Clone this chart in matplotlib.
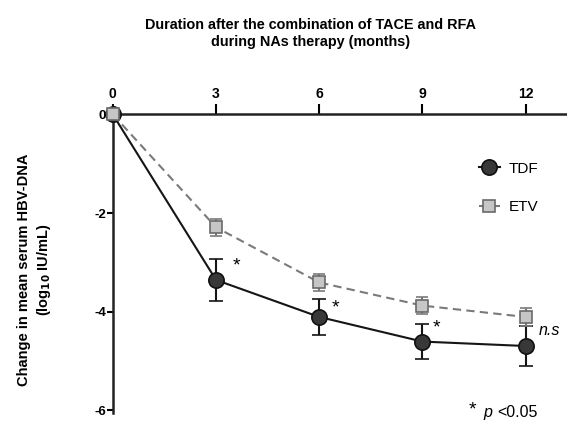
import matplotlib
matplotlib.use("Agg")
import matplotlib.pyplot as plt
from matplotlib.lines import Line2D
import numpy as np

plt.rcParams['font.family'] = ['Liberation Sans', 'DejaVu Sans']

months = [0, 3, 6, 9, 12]
tdf_mean = [0, -3.36, -4.11, -4.61, -4.70]
tdf_err = [0, 0.42, 0.37, 0.35, 0.41]
etv_mean = [0, -2.29, -3.41, -3.88, -4.11]
etv_err = [0, 0.17, 0.17, 0.17, 0.18]
xticks = [0, 3, 6, 9, 12]
yticks = [0, -2, -4, -6]
sig_x = [3.58, 6.47, 9.41]
sig_y = [-3.08, -3.93, -4.33]

fig = plt.figure(figsize=(5.67, 4.22), dpi=100)
ax = fig.add_axes([0.199, 0.0213, 0.801, 0.7074])

tdf_style = dict(color='#151515', lw=1.5, ls='-', marker='o', ms=11,
                 mfc='#383838', mec='#111111', mew=1.2)
etv_style = dict(color='#7a7a7a', lw=1.5, ls=(0, (4, 2.5)), marker='s', ms=9,
                 mfc='#c6c6c6', mec='#6a6a6a', mew=1.2)

ax.errorbar(months, tdf_mean, yerr=tdf_err, capsize=5, capthick=1.5,
            elinewidth=1.5, ecolor='#151515', zorder=3, **tdf_style)
ax.errorbar(months, etv_mean, yerr=etv_err, capsize=4.5, capthick=1.5,
            elinewidth=1.5, ecolor='#7a7a7a', zorder=4, **etv_style)

ax.set_xlim(0, 13.2)
ax.set_ylim(-6.06, 0)
ax.xaxis.tick_top()
ax.set_xticks(xticks)
ax.set_xticklabels([str(v) for v in xticks], fontweight='bold', fontsize=10)
ax.set_yticks(yticks)
ax.set_yticklabels([str(v) for v in yticks], fontweight='bold', fontsize=9.5)
ax.tick_params(axis='x', direction='out', length=7, width=1.5, pad=3)
ax.tick_params(axis='y', direction='out', length=4, width=1.5, pad=1)
for s in ['right', 'bottom']:
    ax.spines[s].set_visible(False)
for s in ['left', 'top']:
    ax.spines[s].set_linewidth(1.8)
    ax.spines[s].set_color('#222222')
for art in ax.get_children():
    try:
        art.set_clip_on(False)
    except Exception:
        pass

# significance markers
for xs, ys in zip(sig_x, sig_y):
    ax.text(xs, ys, '*', fontsize=14, ha='center', va='center')
ax.text(12.38, -4.39, 'n.s', fontsize=11.5, style='italic', ha='left', va='center')

fig.text(0.833, 0.028, '*', fontsize=14, ha='center', va='center')
fig.text(0.852, 0.022, 'p', fontsize=11.5, style='italic', ha='left', va='center')
fig.text(0.877, 0.022, '<0.05', fontsize=11.5, ha='left', va='center')

handles = [Line2D([], [], **tdf_style), Line2D([], [], **etv_style)]
ax.legend(handles, ['TDF', 'ETV'], loc='upper left', bbox_to_anchor=(0.775, 0.888),
          frameon=False, fontsize=11, handlelength=1.4, labelspacing=1.6,
          handletextpad=0.6)

fig.text(0.547, 0.92, 'Duration after the combination of TACE and RFA\nduring NAs therapy (months)',
         ha='center', va='center', fontsize=10.4, fontweight='bold', linespacing=1.3)
fig.text(0.043, 0.36, 'Change in mean serum HBV-DNA', rotation=90, ha='center', va='center',
         fontsize=10.5, fontweight='bold')
fig.text(0.077, 0.36, r'(log$_{\mathbf{10}}$ IU/mL)', rotation=90, ha='center', va='center',
         fontsize=10.5, fontweight='bold')

fig.savefig('out.png', dpi=100)
